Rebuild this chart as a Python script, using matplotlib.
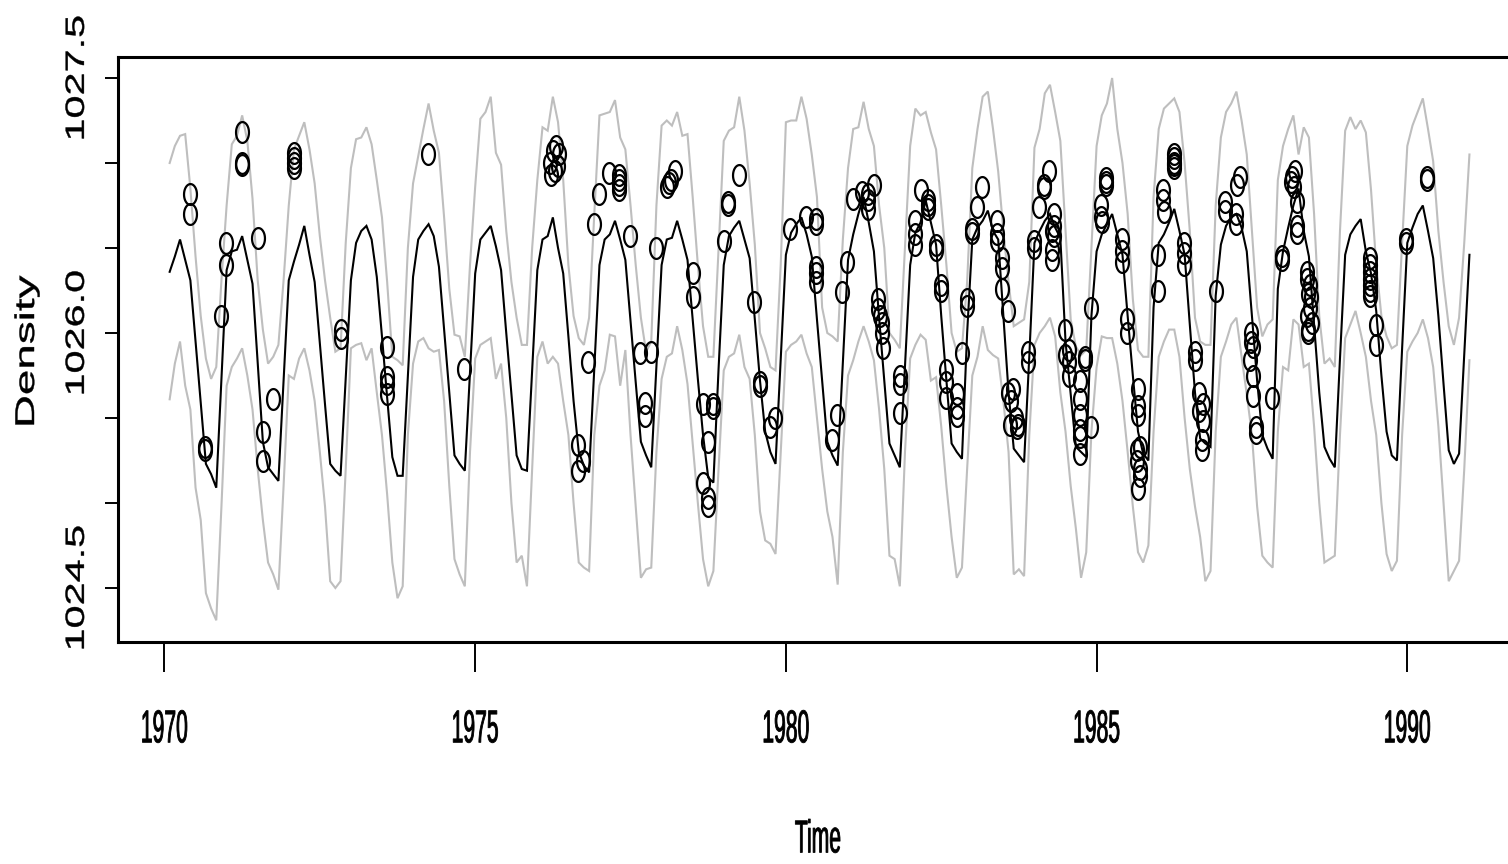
import numpy as np
import matplotlib
matplotlib.use("Agg")
import matplotlib.pyplot as plt
from matplotlib.path import Path
from matplotlib.patheffects import AbstractPathEffect
from matplotlib.transforms import Affine2D

# Monthly series, February 1970 to January 1991
start_year = 1970
start_month = 2

density_mean = [
    1026.36, 1026.45, 1026.55, 1026.43, 1026.31, 1025.95, 1025.59, 1025.23, 1025.17, 1025.09, 1025.73,
    1026.37, 1026.48, 1026.49, 1026.57, 1026.43, 1026.29, 1025.82, 1025.36, 1025.21, 1025.17, 1025.13, 1025.72,
    1026.31, 1026.42, 1026.52, 1026.63, 1026.46, 1026.30, 1025.94, 1025.58, 1025.23, 1025.19, 1025.16, 1025.74,
    1026.31, 1026.53, 1026.60, 1026.63, 1026.55, 1026.33, 1025.98, 1025.62, 1025.27, 1025.16, 1025.16, 1025.75,
    1026.33, 1026.55, 1026.60, 1026.64, 1026.57, 1026.39, 1026.02, 1025.65, 1025.28, 1025.23, 1025.19, 1025.77,
    1026.35, 1026.55, 1026.59, 1026.63, 1026.51, 1026.37, 1026.00, 1025.64, 1025.28, 1025.20, 1025.19, 1025.78,
    1026.37, 1026.55, 1026.57, 1026.68, 1026.50, 1026.35, 1025.98, 1025.60, 1025.30, 1025.22, 1025.18, 1025.79,
    1026.40, 1026.55, 1026.58, 1026.66, 1026.55, 1026.43, 1026.07, 1025.71, 1025.36, 1025.28, 1025.21, 1025.80,
    1026.40, 1026.55, 1026.56, 1026.66, 1026.55, 1026.43, 1026.08, 1025.73, 1025.40, 1025.15, 1025.12, 1025.79,
    1026.40, 1026.57, 1026.62, 1026.66, 1026.55, 1026.44, 1026.08, 1025.72, 1025.42, 1025.30, 1025.23, 1025.85,
    1026.46, 1026.59, 1026.64, 1026.68, 1026.58, 1026.45, 1026.08, 1025.72, 1025.36, 1025.28, 1025.22, 1025.83,
    1026.43, 1026.58, 1026.70, 1026.80, 1026.65, 1026.48, 1026.09, 1025.72, 1025.35, 1025.28, 1025.21, 1025.80,
    1026.40, 1026.59, 1026.65, 1026.78, 1026.65, 1026.52, 1026.10, 1025.72, 1025.35, 1025.30, 1025.26, 1026.00,
    1026.55, 1026.62, 1026.66, 1026.72, 1026.60, 1026.55, 1026.10, 1025.65, 1025.32, 1025.28, 1025.24, 1025.86,
    1026.53, 1026.60, 1026.66, 1026.70, 1026.62, 1026.56, 1025.95, 1025.64, 1025.33, 1025.30, 1025.27, 1026.10,
    1026.48, 1026.58, 1026.64, 1026.70, 1026.58, 1026.46, 1026.10, 1025.75, 1025.42, 1025.29, 1025.25, 1026.15,
    1026.53, 1026.58, 1026.65, 1026.73, 1026.60, 1026.46, 1026.05, 1025.65, 1025.38, 1025.35, 1025.33, 1026.22,
    1026.52, 1026.63, 1026.68, 1026.70, 1026.62, 1026.48, 1026.10, 1025.72, 1025.40, 1025.32, 1025.26, 1026.26,
    1026.48, 1026.62, 1026.75, 1026.85, 1026.60, 1026.45, 1026.05, 1025.65, 1025.33, 1025.26, 1025.21, 1025.85,
    1026.46, 1026.58, 1026.63, 1026.67, 1026.48, 1026.35, 1026.13, 1025.75, 1025.42, 1025.28, 1025.25, 1025.91,
    1026.53, 1026.62, 1026.70, 1026.75, 1026.60, 1026.44, 1026.10, 1025.70, 1025.31, 1025.23, 1025.29, 1025.88,
    1026.46,
]

density_upper = [
    1027.00, 1027.10, 1027.16, 1027.17, 1026.85, 1026.45, 1026.10, 1025.85, 1025.73, 1025.80, 1026.31,
    1026.75, 1027.11, 1027.16, 1027.28, 1027.13, 1026.79, 1026.31, 1026.02, 1025.82, 1025.86, 1025.93, 1026.31,
    1026.75, 1027.08, 1027.16, 1027.24, 1027.08, 1026.88, 1026.57, 1026.31, 1026.09, 1025.89, 1025.91, 1026.53,
    1026.97, 1027.14, 1027.15, 1027.21, 1027.11, 1026.90, 1026.68, 1026.30, 1025.86, 1025.84, 1025.81, 1026.50,
    1026.88, 1027.04, 1027.20, 1027.35, 1027.19, 1027.06, 1026.68, 1026.26, 1025.99, 1025.98, 1025.86, 1026.40,
    1026.86, 1027.26, 1027.30, 1027.39, 1027.06, 1026.99, 1026.60, 1026.30, 1026.09, 1025.93, 1025.93, 1026.50,
    1026.90, 1027.21, 1027.19, 1027.39, 1027.24, 1026.90, 1026.40, 1026.10, 1025.97, 1025.93, 1026.09, 1026.70,
    1027.28, 1027.29, 1027.30, 1027.37, 1027.15, 1027.08, 1026.75, 1026.40, 1026.09, 1025.89, 1025.95, 1026.75,
    1027.22, 1027.25, 1027.22, 1027.30, 1027.16, 1027.17, 1026.80, 1026.40, 1026.04, 1025.86, 1025.86, 1026.50,
    1027.13, 1027.19, 1027.21, 1027.39, 1027.19, 1026.88, 1026.52, 1026.00, 1025.91, 1025.80, 1025.78, 1026.40,
    1027.24, 1027.25, 1027.25, 1027.39, 1027.26, 1027.05, 1026.80, 1026.15, 1026.00, 1025.98, 1025.95, 1026.55,
    1026.97, 1027.20, 1027.21, 1027.36, 1027.20, 1027.10, 1026.75, 1026.50, 1026.00, 1025.96, 1025.91, 1026.50,
    1027.10, 1027.32, 1027.28, 1027.30, 1027.18, 1027.08, 1026.75, 1026.40, 1026.00, 1025.89, 1025.91, 1026.30,
    1026.97, 1027.20, 1027.39, 1027.42, 1027.20, 1026.95, 1026.60, 1026.30, 1026.04, 1026.06, 1026.08, 1026.30,
    1027.09, 1027.20, 1027.41, 1027.46, 1027.30, 1027.13, 1026.60, 1026.08, 1025.92, 1025.87, 1025.90, 1026.50,
    1027.10, 1027.28, 1027.35, 1027.50, 1027.20, 1027.00, 1026.70, 1026.20, 1025.90, 1025.86, 1025.86, 1026.80,
    1027.20, 1027.32, 1027.35, 1027.38, 1027.30, 1027.00, 1026.60, 1026.09, 1025.95, 1025.93, 1025.93, 1026.75,
    1027.15, 1027.30, 1027.35, 1027.42, 1027.25, 1027.05, 1026.60, 1026.15, 1025.98, 1026.05, 1026.08, 1026.90,
    1027.10, 1027.20, 1027.28, 1027.05, 1027.21, 1027.15, 1026.70, 1026.10, 1025.82, 1025.85, 1025.80, 1026.60,
    1027.19, 1027.27, 1027.20, 1027.25, 1027.18, 1026.84, 1026.40, 1026.10, 1025.98, 1025.91, 1025.93, 1026.53,
    1027.10, 1027.22, 1027.30, 1027.38, 1027.20, 1027.01, 1026.60, 1026.30, 1026.04, 1025.93, 1026.09, 1026.53,
    1027.05,
]

density_lower = [
    1025.61, 1025.82, 1025.95, 1025.69, 1025.55, 1025.09, 1024.90, 1024.47, 1024.38, 1024.31, 1024.98,
    1025.69, 1025.80, 1025.85, 1025.91, 1025.75, 1025.55, 1025.20, 1024.90, 1024.65, 1024.58, 1024.49, 1025.10,
    1025.75, 1025.73, 1025.85, 1025.91, 1025.78, 1025.60, 1025.30, 1024.98, 1024.54, 1024.50, 1024.54, 1025.20,
    1025.91, 1025.93, 1025.94, 1025.84, 1025.91, 1025.65, 1025.40, 1025.05, 1024.65, 1024.44, 1024.51, 1025.40,
    1025.82, 1025.95, 1025.97, 1025.91, 1025.89, 1025.90, 1025.60, 1025.10, 1024.67, 1024.58, 1024.51, 1025.30,
    1025.85, 1025.93, 1025.95, 1025.97, 1025.73, 1025.82, 1025.50, 1025.00, 1024.65, 1024.69, 1024.51, 1025.20,
    1025.86, 1025.95, 1025.82, 1025.86, 1025.82, 1025.60, 1025.40, 1025.00, 1024.65, 1024.62, 1024.60, 1025.40,
    1025.69, 1025.78, 1025.99, 1025.98, 1025.69, 1025.90, 1025.40, 1024.98, 1024.56, 1024.61, 1024.62, 1025.30,
    1025.73, 1025.86, 1025.88, 1026.04, 1025.90, 1025.70, 1025.35, 1025.00, 1024.67, 1024.51, 1024.60, 1025.20,
    1025.78, 1025.86, 1025.88, 1025.99, 1025.80, 1025.73, 1025.40, 1024.95, 1024.78, 1024.76, 1024.70, 1025.30,
    1025.89, 1025.93, 1025.95, 1025.99, 1025.88, 1025.80, 1025.50, 1025.20, 1024.95, 1024.80, 1024.52, 1025.30,
    1025.75, 1025.84, 1025.95, 1026.04, 1025.95, 1025.84, 1025.55, 1025.20, 1024.69, 1024.67, 1024.51, 1025.30,
    1025.85, 1025.93, 1025.99, 1025.96, 1025.72, 1025.74, 1025.45, 1025.10, 1024.80, 1024.56, 1024.62, 1025.20,
    1025.75, 1025.86, 1026.04, 1025.90, 1025.87, 1025.85, 1025.60, 1025.30, 1024.58, 1024.61, 1024.57, 1025.40,
    1025.93, 1026.00, 1026.04, 1026.09, 1025.98, 1025.65, 1025.42, 1025.10, 1024.85, 1024.56, 1024.71, 1025.42,
    1025.80, 1025.98, 1025.97, 1025.97, 1025.82, 1025.60, 1025.30, 1024.98, 1024.71, 1024.65, 1024.75, 1025.42,
    1025.86, 1025.95, 1026.02, 1026.02, 1025.86, 1025.50, 1025.20, 1024.98, 1024.80, 1024.54, 1024.60, 1025.42,
    1025.86, 1025.95, 1026.05, 1026.09, 1025.86, 1025.64, 1025.40, 1024.98, 1024.69, 1024.65, 1024.62, 1025.42,
    1025.80, 1025.78, 1026.08, 1026.05, 1025.80, 1025.82, 1025.45, 1025.00, 1024.65, 1024.67, 1024.69, 1025.40,
    1025.97, 1026.05, 1026.13, 1026.00, 1025.86, 1025.60, 1025.40, 1025.00, 1024.70, 1024.60, 1024.66, 1025.40,
    1025.89, 1025.95, 1026.00, 1026.08, 1025.97, 1025.80, 1025.45, 1025.00, 1024.54, 1024.60, 1024.66, 1025.20,
    1025.84,
]

# Individual observations (decimal year, density)
obs_time = [
    1970.405, 1970.405, 1970.657, 1970.660, 1970.914, 1970.995, 1970.995,
    1971.247, 1971.247, 1971.250, 1971.505, 1971.585, 1971.585, 1971.746,
    1972.080, 1972.080, 1972.080, 1972.085, 1972.835, 1972.835,
    1973.585, 1973.585, 1973.585, 1973.585,
    1974.245, 1974.825,
    1976.200, 1976.250, 1976.300, 1976.350, 1976.280, 1976.220, 1976.330,
    1976.660, 1976.740, 1976.660, 1976.815, 1976.907, 1976.987,
    1977.158, 1977.320, 1977.320, 1977.320, 1977.320, 1977.496, 1977.657, 1977.830,
    1977.740, 1977.740, 1977.910,
    1978.090, 1978.150, 1978.220, 1978.120, 1978.505, 1978.505,
    1978.670, 1978.830, 1978.830, 1978.750, 1978.670, 1978.750, 1978.750, 1978.999,
    1979.063, 1979.063, 1979.240, 1979.490, 1979.580, 1979.580, 1979.740, 1979.820,
    1980.070, 1980.330, 1980.490, 1980.490, 1980.490, 1980.490, 1980.490,
    1980.746, 1980.827, 1980.908, 1980.990,
    1981.080, 1981.230, 1981.320, 1981.320, 1981.320, 1981.410,
    1981.480, 1981.480, 1981.520, 1981.550, 1981.550, 1981.560,
    1981.830, 1981.830, 1981.830,
    1982.080, 1982.080, 1982.080, 1982.170, 1982.290, 1982.290, 1982.290,
    1982.410, 1982.410, 1982.490, 1982.490, 1982.580, 1982.580, 1982.580,
    1982.750, 1982.750, 1982.750, 1982.830, 1982.920, 1982.920,
    1983.000, 1983.000, 1983.080, 1983.160, 1983.390, 1983.390, 1983.390,
    1983.480, 1983.480, 1983.480, 1983.580,
    1983.580, 1983.660, 1983.620, 1983.600, 1983.700, 1983.720, 1983.740,
    1983.900, 1983.900, 1983.990, 1983.990,
    1984.070, 1984.150, 1984.150, 1984.230,
    1984.320, 1984.320, 1984.280, 1984.280, 1984.280, 1984.320,
    1984.490, 1984.490, 1984.560, 1984.560, 1984.560,
    1984.740, 1984.740, 1984.740, 1984.740, 1984.740, 1984.740,
    1984.820, 1984.820, 1984.910, 1984.910,
    1985.070, 1985.070, 1985.080, 1985.150, 1985.150, 1985.150,
    1985.410, 1985.410, 1985.410, 1985.490, 1985.490,
    1985.660, 1985.660, 1985.660, 1985.650, 1985.650, 1985.700, 1985.700, 1985.700, 1985.660,
    1985.990, 1985.990,
    1986.070, 1986.070, 1986.080, 1986.240, 1986.240, 1986.240, 1986.240, 1986.250,
    1986.410, 1986.410, 1986.410, 1986.580, 1986.580,
    1986.650, 1986.650, 1986.720, 1986.720, 1986.690, 1986.690, 1986.920,
    1987.070, 1987.070, 1987.260, 1987.300, 1987.250, 1987.250,
    1987.480, 1987.480, 1987.520, 1987.470, 1987.520, 1987.520, 1987.560, 1987.570,
    1987.830, 1987.980, 1987.980,
    1988.150, 1988.130, 1988.200, 1988.170, 1988.230, 1988.230, 1988.230,
    1988.390, 1988.390, 1988.410, 1988.450, 1988.390, 1988.460, 1988.410, 1988.430, 1988.440, 1988.400,
    1989.400, 1989.400, 1989.400, 1989.400, 1989.400, 1989.400, 1989.400,
    1989.500, 1989.500, 1989.980, 1989.980,
    1990.320, 1990.320,
]

obs_density = [
    1026.82, 1026.70, 1025.33, 1025.31, 1026.10, 1026.40, 1026.53,
    1027.18, 1026.99, 1027.00, 1026.56, 1025.42, 1025.25, 1025.61,
    1027.00, 1027.06, 1026.97, 1027.03, 1026.02, 1025.97,
    1025.92, 1025.74, 1025.70, 1025.64,
    1027.05, 1025.79,
    1027.00, 1027.07, 1027.10, 1027.05, 1026.95, 1026.93, 1026.98,
    1025.34, 1025.25, 1025.19, 1025.83, 1026.64, 1026.82,
    1026.94, 1026.93, 1026.90, 1026.87, 1026.84, 1026.57, 1025.88, 1025.89,
    1025.59, 1025.51, 1026.50,
    1026.86, 1026.90, 1026.95, 1026.88, 1026.35, 1026.21,
    1025.58, 1025.58, 1025.56, 1025.36, 1025.12, 1025.03, 1024.98, 1026.54,
    1026.77, 1026.75, 1026.93, 1026.18, 1025.71, 1025.69, 1025.45, 1025.50,
    1026.61, 1026.68, 1026.67, 1026.64, 1026.39, 1026.35, 1026.30,
    1025.37, 1025.52, 1026.24, 1026.42,
    1026.79, 1026.83, 1026.82, 1026.78, 1026.73, 1026.87,
    1026.20, 1026.14, 1026.10, 1026.06, 1026.00, 1025.91,
    1025.75, 1025.70, 1025.53,
    1026.66, 1026.58, 1026.52, 1026.84, 1026.78, 1026.75, 1026.73,
    1026.52, 1026.49, 1026.28, 1026.25, 1025.78, 1025.71, 1025.62,
    1025.64, 1025.56, 1025.51, 1025.88, 1026.20, 1026.16,
    1026.61, 1026.59, 1026.74, 1026.86, 1026.66, 1026.58, 1026.54,
    1026.44, 1026.38, 1026.26, 1026.13,
    1025.65, 1025.67, 1025.60, 1025.46, 1025.50, 1025.44, 1025.46,
    1025.89, 1025.83, 1026.54, 1026.50,
    1026.74, 1026.87, 1026.85, 1026.95,
    1026.70, 1026.63, 1026.60, 1026.49, 1026.43, 1026.57,
    1026.02, 1025.87, 1025.90, 1025.83, 1025.75,
    1025.72, 1025.61, 1025.52, 1025.43, 1025.39, 1025.29,
    1025.86, 1025.84, 1025.45, 1026.15,
    1026.75, 1026.68, 1026.65, 1026.89, 1026.87, 1026.91,
    1026.55, 1026.48, 1026.42, 1026.08, 1026.00,
    1025.67, 1025.57, 1025.52, 1025.31, 1025.25, 1025.33, 1025.20, 1025.16, 1025.08,
    1026.46, 1026.25,
    1026.84, 1026.78, 1026.71, 1026.97, 1027.00, 1027.03, 1027.05, 1026.99,
    1026.53, 1026.47, 1026.40, 1025.89, 1025.84,
    1025.65, 1025.54, 1025.58, 1025.48, 1025.37, 1025.31, 1026.25,
    1026.77, 1026.72, 1026.87, 1026.92, 1026.70, 1026.64,
    1026.00, 1025.95, 1025.92, 1025.84, 1025.75, 1025.63, 1025.45, 1025.41,
    1025.62, 1026.45, 1026.43,
    1026.92, 1026.89, 1026.95, 1026.86, 1026.77, 1026.63, 1026.59,
    1026.36, 1026.32, 1026.23, 1026.21, 1026.10, 1026.06, 1026.02, 1026.28, 1026.15, 1026.00,
    1026.44, 1026.40, 1026.36, 1026.32, 1026.28, 1026.25, 1026.22,
    1026.05, 1025.93, 1026.55, 1026.53,
    1026.92, 1026.90,
]

x_ticks = [1970, 1975, 1980, 1985, 1990]
y_ticks_labelled = [1024.5, 1026.0, 1027.5]
y_ticks_plain = [1025.0, 1025.5, 1026.5, 1027.0]


class Stretch(AbstractPathEffect):
    """Scale rendered glyphs about their own centre (device units),
    optionally adding a thin outline to thicken the strokes."""

    def __init__(self, sx=1.0, sy=1.0, stroke=0.0):
        super().__init__()
        self.sx = sx
        self.sy = sy
        self.stroke = stroke

    def draw_path(self, renderer, gc, tpath, affine, rgbFace=None):
        bb = tpath.get_extents(affine)
        cx = 0.5 * (bb.x0 + bb.x1)
        cy = 0.5 * (bb.y0 + bb.y1)
        tr = affine + Affine2D().translate(-cx, -cy).scale(self.sx, self.sy).translate(cx, cy)
        gc0 = renderer.new_gc()
        gc0.copy_properties(gc)
        if self.stroke > 0 and rgbFace is not None:
            gc0.set_linewidth(self.stroke)
            gc0.set_foreground(rgbFace)
            gc0.set_joinstyle("round")
        renderer.draw_path(gc0, tpath, tr, rgbFace)
        gc0.restore()


plt.rcParams["font.family"] = ["Liberation Sans", "DejaVu Sans"]

months = np.arange(len(density_mean))
t = start_year + (start_month - 1 + months) / 12.0

W, H = 1508, 864
fig = plt.figure(figsize=(W / 100, H / 100), dpi=100)
ax = fig.add_axes([118 / W, (H - 642) / H, 1394 / W, 585 / H])

grey = "#bebebe"
ax.plot(t, density_upper, color=grey, lw=1.5, solid_joinstyle="miter")
ax.plot(t, density_lower, color=grey, lw=1.5, solid_joinstyle="miter")
ax.plot(t, density_mean, color="black", lw=1.5, solid_joinstyle="miter")

theta = np.linspace(0, 2 * np.pi, 72)
ring = Path(np.column_stack([0.62 * np.cos(theta), np.sin(theta)]), closed=True)
ax.plot(obs_time, obs_density, linestyle="none", marker=ring, markersize=15,
        markerfacecolor="none", markeredgecolor="black", markeredgewidth=1.6)

ax.set_xlim(1969.252, 1991.685)
ax.set_ylim(1024.1824, 1027.6235)

for s in ax.spines.values():
    s.set_linewidth(2.2)

ax.set_xticks(x_ticks)
ax.set_xticklabels([str(v) for v in x_ticks], va="center")
ax.tick_params(axis="x", length=21.6, width=1.4, pad=40.5, labelsize=15.2)

ax.set_yticks(y_ticks_labelled)
ax.set_yticks(y_ticks_plain, minor=True)
ax.set_yticklabels([f"{v:.1f}" for v in y_ticks_labelled], rotation=90, va="center", ha="center")
ax.tick_params(axis="y", which="both", length=9.4, width=1.4, pad=20.2, labelsize=19)

for lbl in ax.get_xticklabels():
    lbl.set_path_effects([Stretch(1.0, 2.18, stroke=0.6)])
for lbl in ax.get_yticklabels():
    lbl.set_path_effects([Stretch(1.0, 1.57, stroke=0.3)])

ax.set_xlabel("Time", fontsize=15.2, va="center")
ax.xaxis.set_label_coords((818 - 118) / 1394, -(838 - 642) / 585)
ax.xaxis.label.set_path_effects([Stretch(1.0, 2.18, stroke=0.6)])

ax.set_ylabel("Density", fontsize=19.5, va="center", ha="center")
ax.yaxis.set_label_coords((27 - 118) / 1394, 0.5 - (351 - 349.5) / 585)
ax.yaxis.label.set_path_effects([Stretch(1.0, 1.69, stroke=0.3)])

fig.savefig("out.png", dpi=100)
